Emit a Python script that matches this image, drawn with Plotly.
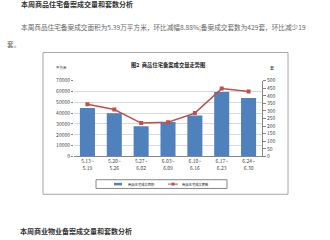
import plotly.graph_objects as go

weeks = ["5.13~5.19", "5.20~5.26", "5.27~6.02", "6.03~6.09", "6.10~6.16", "6.17~6.23", "6.24~6.30"]
area = [44800, 40000, 27800, 31800, 37800, 59600, 53900]
units = [345, 310, 220, 226, 286, 448, 429]
left_ticks = [0, 10000, 20000, 30000, 40000, 50000, 60000, 70000]
right_ticks = [0, 50, 100, 150, 200, 250, 300, 350, 400, 450, 500]

W, H = 330, 240
def px(x):
    return x / W
def py(y):
    return 1 - y / H

FONT = "Noto Sans CJK SC"
BLUE = "#4F81BD"
RED = "#C0504D"
labels = [w.replace("~", "~<br>") for w in weeks]

fig = go.Figure()
fig.add_trace(go.Bar(x=weeks, y=area, marker=dict(color=BLUE, line=dict(width=0)),
                     name="商品住宅成交面积", yaxis="y"))
fig.add_trace(go.Scatter(x=weeks, y=units, mode="lines+markers", yaxis="y2",
                         line=dict(color=RED, width=1.5),
                         marker=dict(symbol="square", size=4, color=RED),
                         name="商品住宅成交套数"))

fig.update_layout(
    width=W, height=H, margin=dict(l=0, r=0, t=0, b=0),
    paper_bgcolor="white", plot_bgcolor="white",
    font=dict(family=FONT, color="#444"),
    showlegend=False, bargap=0.44,
    xaxis=dict(domain=[px(74), px(262)], tickmode="array", tickvals=weeks, ticktext=labels,
               tickfont=dict(size=5, color="#444"), showline=True, linecolor="#868686",
               linewidth=1, ticks="", showgrid=False),
    yaxis=dict(domain=[py(157), py(79)], range=[0, 70000], tickvals=left_ticks,
               tickformat="d",
               tickfont=dict(size=5, color="#444"), showgrid=True, gridcolor="#d9d9d9",
               gridwidth=1, ticks="outside", ticklen=2, tickcolor="#868686",
               showline=False, zeroline=False),
    yaxis2=dict(overlaying="y", side="right", anchor="x", range=[0, 500], tickvals=right_ticks,
                tickformat="d",
                tickfont=dict(size=5, color="#444"), showgrid=False, ticks="outside",
                ticklen=3, tickcolor="#868686", showline=True, linecolor="#868686",
                linewidth=1, zeroline=False),
)

shapes = [
    dict(type="rect", xref="paper", yref="paper", x0=px(43), x1=px(288), y0=py(196), y1=py(50),
         line=dict(color="#a6a6a6", width=1)),
    dict(type="rect", xref="paper", yref="paper", x0=px(96), x1=px(227), y0=py(190), y1=py(181),
         line=dict(color="#868686", width=1)),
    dict(type="line", xref="paper", yref="paper", x0=px(114), x1=px(122), y0=py(185.5), y1=py(185.5),
         line=dict(color=BLUE, width=2.5)),
    dict(type="line", xref="paper", yref="paper", x0=px(168), x1=px(178), y0=py(185.5), y1=py(185.5),
         line=dict(color=RED, width=1)),
    dict(type="rect", xref="paper", yref="paper", x0=px(171.5), x1=px(174.5), y0=py(187), y1=py(184),
         line=dict(width=0), fillcolor=RED),
]
fig.update_layout(shapes=shapes)

def ann(text, x, y, size, bold=False, color="#555", xanchor="left"):
    fig.add_annotation(text=("<b>%s</b>" % text) if bold else text, xref="paper", yref="paper",
                       x=px(x), y=py(y), xanchor=xanchor, yanchor="middle", showarrow=False,
                       font=dict(size=size, color=color, family=FONT))

ann("本周商品住宅备案成交量和套数分析", 18.5, 0.5, 7, bold=True, color="#333")
ann("本周商品住宅备案成交面积为5.39万平方米，环比减幅8.88%;备案成交套数为429套，环比减少19", 18.5, 23.3, 6.65, color="#666")
ann("套。", 4.5, 40.7, 6.7, color="#666")
ann("图2  商品住宅备案成交量走势图", 167.5, 63, 5.3, bold=True, color="#222", xanchor="center")
ann("平方米", 61, 65.7, 3.5, color="#222", xanchor="center")
ann("套", 271.5, 66, 4, color="#222", xanchor="center")
ann("商品住宅成交面积", 125.5, 185.5, 3.3, color="#222")
ann("商品住宅成交套数", 180, 185.5, 3.3, color="#222")
ann("本周商业物业备案成交量和套数分析", 18.3, 234.3, 7, bold=True, color="#333")

fig.write_html("out.html")
